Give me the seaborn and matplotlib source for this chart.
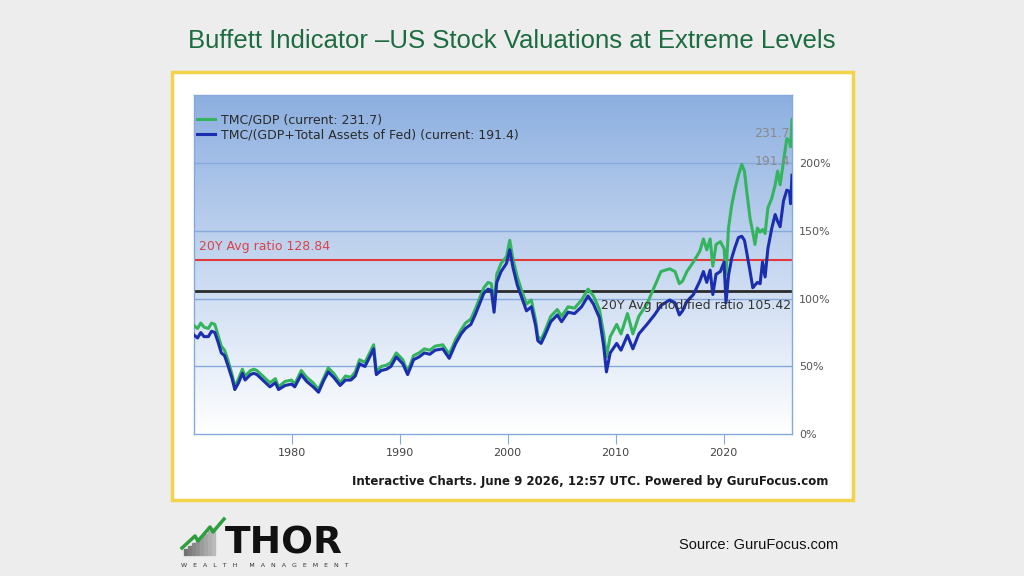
import numpy as np
import pandas as pd
import matplotlib
matplotlib.use("Agg")
import matplotlib.pyplot as plt
import seaborn as sns
from matplotlib.colors import LinearSegmentedColormap
from matplotlib.patches import Rectangle
from matplotlib.lines import Line2D

# values (decimal years, ratio in %)
years = [1971.0, 1971.3, 1971.6, 1971.9, 1972.3, 1972.6, 1972.9, 1973.2, 1973.5, 1973.8,
         1974.1, 1974.5, 1974.75, 1975.1, 1975.45, 1975.7, 1976.2, 1976.5, 1976.8, 1977.2,
         1977.6, 1978.0, 1978.5, 1978.8, 1979.4, 1980.0, 1980.3, 1980.9, 1981.4, 1982.0,
         1982.5, 1983.0, 1983.4, 1983.9, 1984.5, 1985.0, 1985.5, 1985.9, 1986.3, 1986.8,
         1987.3, 1987.6, 1987.85, 1988.3, 1988.8, 1989.2, 1989.7, 1990.3, 1990.75, 1991.3,
         1991.8, 1992.3, 1992.8, 1993.3, 1994.0, 1994.6, 1995.2, 1995.7, 1996.1, 1996.6,
         1997.0, 1997.3, 1997.8, 1998.2, 1998.5, 1998.75, 1999.0, 1999.4, 1999.9, 2000.2,
         2000.5, 2000.9, 2001.3, 2001.75, 2002.2, 2002.6, 2002.8, 2003.1, 2003.4, 2004.0,
         2004.6, 2005.0, 2005.6, 2006.2, 2006.85, 2007.45, 2007.95, 2008.5, 2008.9, 2009.15,
         2009.5, 2010.1, 2010.5, 2011.1, 2011.6, 2012.15, 2012.9, 2013.6, 2014.2, 2015.0,
         2015.5, 2015.9, 2016.2, 2016.6, 2017.2, 2017.8, 2018.13, 2018.44, 2018.75, 2019.0,
         2019.3, 2019.7, 2020.04, 2020.22, 2020.45, 2020.75, 2021.06, 2021.37, 2021.68, 2021.93,
         2022.14, 2022.45, 2022.7, 2022.9, 2023.13, 2023.38, 2023.6, 2023.84, 2024.1, 2024.46,
         2024.77, 2025.0, 2025.23, 2025.54, 2025.85, 2026.1, 2026.2, 2026.33]

tmc_gdp = [80, 78, 82, 79, 78, 82, 81, 73, 65, 62,
           55, 44, 35, 41, 48, 43, 47, 48, 47, 44,
           41, 38, 41, 35, 39, 40, 37, 47, 42, 38,
           33, 42, 49, 45, 38, 43, 42, 46, 55, 53,
           61, 66, 46, 50, 51, 53, 60, 55, 46, 58,
           60, 63, 62, 65, 66, 59, 70, 77, 82, 85,
           92, 98, 108, 112, 111, 94, 118, 126, 131, 143,
           129, 116, 106, 96, 99, 84, 72, 70, 75, 87,
           92, 87, 94, 93, 99, 107, 102, 92, 74, 57,
           72, 81, 74, 89, 74, 87, 96, 109, 120, 122,
           120, 111, 113, 120, 127, 135, 144, 136, 144, 124,
           140, 142, 137, 118, 152, 169, 181, 191, 199, 194,
           179, 159, 149, 140, 152, 149, 151, 148, 167, 174,
           184, 194, 184, 201, 218, 216, 212, 232]

tmc_gdp_fed = [73, 71, 75, 72, 72, 76, 75, 68, 60, 58,
               51, 41, 33, 38, 45, 40, 44, 45, 44, 41,
               38, 35, 38, 33, 36, 37, 35, 44, 39, 35,
               31, 40, 46, 42, 36, 40, 40, 43, 52, 50,
               58, 63, 44, 47, 48, 50, 57, 52, 44, 55,
               57, 60, 59, 62, 63, 56, 67, 74, 78, 81,
               88, 94, 104, 107, 106, 90, 112, 120, 126, 136,
               123, 110, 101, 91, 94, 80, 69, 67, 72, 83,
               88, 83, 90, 89, 94, 102, 96, 86, 65, 46,
               60, 67, 62, 73, 63, 74, 81, 88, 95, 99,
               97, 88, 91, 98, 103, 113, 120, 112, 121, 103,
               118, 120, 127, 97, 117, 130, 138, 145, 146, 143,
               134, 120, 108, 110, 112, 111, 127, 116, 137, 152,
               162, 157, 153, 172, 180, 179, 170, 191]

label_green = "TMC/GDP (current: 231.7)"
label_blue = "TMC/(GDP+Total Assets of Fed) (current: 191.4)"
avg_20y = 128.84
avg_20y_mod = 105.42
y_ticks = [0, 50, 100, 150, 200]
y_ticklabels = ["0%", "50%", "100%", "150%", "200%"]
x_ticks = [1980, 1990, 2000, 2010, 2020]

df = pd.concat([
    pd.DataFrame({"year": years, "ratio": tmc_gdp, "series": label_green}),
    pd.DataFrame({"year": years, "ratio": tmc_gdp_fed, "series": label_blue}),
])

green = "#34b45e"
blue = "#1b2fae"
grid_blue = "#86a9dc"

W, H = 1024, 576
fig = plt.figure(figsize=(10.24, 5.76), dpi=100, facecolor="#ededed")

def fx(x):
    return x / W

def fy(y):
    return 1 - y / H

# yellow frame around the chart
fig.patches.append(Rectangle((fx(172), fy(500)), (853 - 172) / W, (500 - 72) / H,
                             transform=fig.transFigure, facecolor="white",
                             edgecolor="#f3d34a", lw=2.5, zorder=-1))

ax = fig.add_axes([fx(194.3), fy(434.3), (792 - 194.3) / W, (434.3 - 94.5) / H])
x0, x1, ytop = 1971.0, 2026.33, 250.5

# blue to white background gradient
cmap = LinearSegmentedColormap.from_list("bg", ["#ffffff", "#8cafe0"])
ax.imshow(np.linspace(0, 1, 256).reshape(-1, 1), extent=[x0, x1, 0, ytop], origin="lower",
          aspect="auto", cmap=cmap, zorder=0)

for v in y_ticks[1:]:
    ax.axhline(v, color=grid_blue, lw=1, zorder=1)
ax.axhline(avg_20y_mod, color="#2b2b2b", lw=2, zorder=2)
ax.axhline(avg_20y, color="#e23a3a", lw=1.5, zorder=2)

sns.lineplot(data=df, x="year", y="ratio", hue="series", hue_order=[label_green, label_blue],
             palette={label_green: green, label_blue: blue}, lw=2.2, estimator=None,
             sort=False, legend=False, ax=ax, zorder=3)

ax.set_xlim(x0, x1)
ax.set_ylim(0, ytop)
ax.set_xlabel("")
ax.set_ylabel("")
ax.yaxis.tick_right()
ax.set_yticks(y_ticks)
ax.set_yticklabels(y_ticklabels)
ax.set_xticks(x_ticks)
ax.set_xticklabels([str(x) for x in x_ticks])
ax.tick_params(axis="y", length=0, pad=5, labelsize=8, labelcolor="#555555")
ax.tick_params(axis="x", length=7, color=grid_blue, pad=3, labelsize=8, labelcolor="#444444")
for s in ax.spines.values():
    s.set_color(grid_blue)
    s.set_linewidth(1)

handles = [Line2D([], [], color=green, lw=2.2), Line2D([], [], color=blue, lw=2.2)]
ax.legend(handles, [label_green, label_blue], loc="upper left", bbox_to_anchor=(0.004, 0.945),
          frameon=False, fontsize=9, labelcolor="#2a2a2a", handlelength=1.5,
          handletextpad=0.45, labelspacing=0.15, borderpad=0, borderaxespad=0)

tr = ax.get_yaxis_transform()
ax.text(0.008, 138.8, "20Y Avg ratio 128.84", transform=tr, ha="left", va="center",
        fontsize=9, color="#d9434a", zorder=4)
ax.text(0.998, 95.3, "20Y Avg modified ratio 105.42", transform=tr, ha="right", va="center",
        fontsize=9, color="#333333", zorder=4)
ax.text(0.997, 221.9, "231.7", transform=tr, ha="right", va="center", fontsize=9,
        color="#8a8a8a", zorder=4)
ax.text(0.997, 201, "191.4", transform=tr, ha="right", va="center", fontsize=9,
        color="#8a8a8a", zorder=4)

fig.text(fx(828.7), fy(481.7), "Interactive Charts. June 9 2026, 12:57 UTC. Powered by GuruFocus.com",
         ha="right", va="center", fontsize=8.5, fontweight="bold", color="#1a1a1a")

fig.text(fx(512), fy(41), "Buffett Indicator \u2013US Stock Valuations at Extreme Levels",
         ha="center", va="center", fontsize=18.5, family="Liberation Sans", color="#1d6b40")
fig.text(fx(838), fy(545), "Source: GuruFocus.com", ha="right", va="center", fontsize=10.5,
         family="Liberation Sans", color="#111111")

# THOR logo, rough
for i in range(8):
    fig.patches.append(Rectangle((fx(184 + i * 4), fy(555)), 3 / W, (6 + i * 3) / H,
                                 transform=fig.transFigure, color=str(0.45 + i * 0.04), zorder=1))
fig.lines.append(Line2D([fx(182), fx(195), fx(198), fx(210), fx(213), fx(224)],
                        [fy(548), fy(536), fy(541), fy(527), fy(532), fy(519)],
                        transform=fig.transFigure, color="#2e9e3e", lw=2.5, zorder=2))
fig.text(fx(225), fy(554), "THOR", ha="left", va="baseline", fontsize=27, fontweight="heavy",
         family="DejaVu Sans", color="#111111")
fig.text(fx(181), fy(565.5), "W   E   A   L   T   H      M   A   N   A   G   E   M   E   N   T",
         ha="left", va="center", fontsize=4.5, color="#333333")

fig.savefig("out.png", dpi=100, facecolor=fig.get_facecolor())
